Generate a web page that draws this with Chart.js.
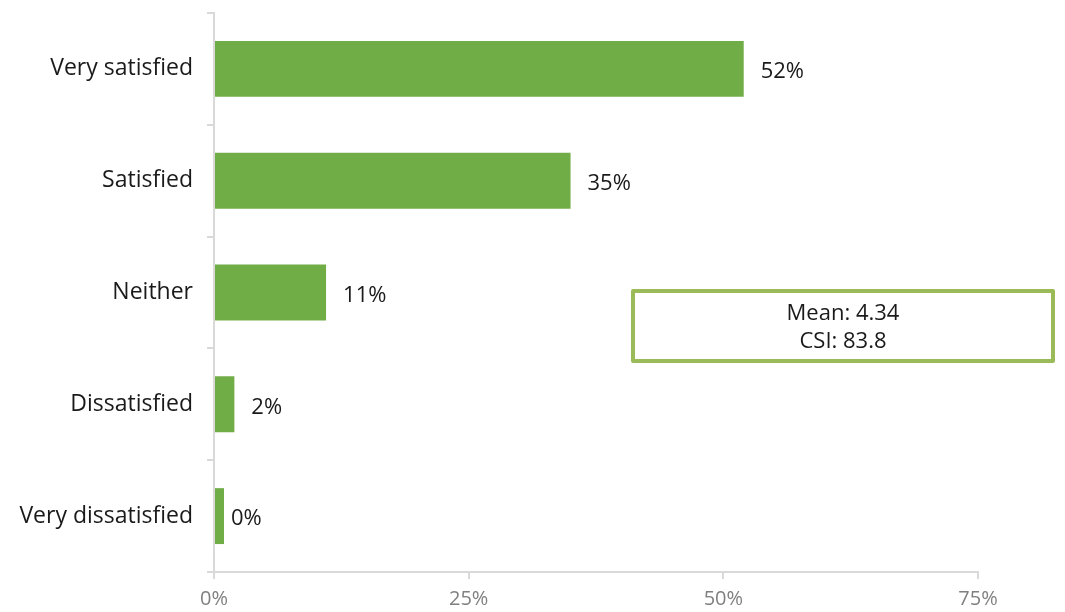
<!DOCTYPE html>
<html lang="en">

<head>
  <meta charset="UTF-8">
  <title>Satisfaction</title>
  <style>
    body {
      margin: 0;
      background: white;
    }

    .chart-container {
      width: 1065px;
      height: 612px;
    }
  </style>
</head>

<body>
  <div class="chart-container">
    <canvas id="satisfactionChart" width="1065" height="612"></canvas>
  </div>

  <script src="https://cdn.jsdelivr.net/npm/chart.js"></script>
  <script>
    // Survey results
    const categories = ['Very satisfied', 'Satisfied', 'Neither', 'Dissatisfied', 'Very dissatisfied'];
    const percentages = [52, 35, 11, 2, 0];
    const xTicks = [0, 25, 50, 75];
    const statLines = ['Mean: 4.34', 'CSI: 83.8'];

    const FONT = "'Open Sans', sans-serif";

    // Percentage labels just past the end of each bar
    const valueLabels = {
      id: 'valueLabels',
      afterDatasetsDraw(chart) {
        const ctx = chart.ctx;
        const x = chart.scales.x;
        const meta = chart.getDatasetMeta(0);
        ctx.save();
        ctx.font = '22px ' + FONT;
        ctx.fillStyle = '#1a1a1a';
        ctx.textBaseline = 'middle';
        ctx.textAlign = 'left';
        meta.data.forEach((bar, i) => {
          const v = percentages[i];
          ctx.fillText(v + '%', x.getPixelForValue(v) + 17, bar.y + 3);
        });
        ctx.restore();
      }
    };

    // Summary box with mean and CSI
    const statBox = {
      id: 'statBox',
      afterDraw(chart) {
        const ctx = chart.ctx;
        const left = 633, top = 291, w = 420, h = 70;
        ctx.save();
        ctx.lineWidth = 4;
        ctx.strokeStyle = '#9bbb59';
        ctx.lineJoin = 'round';
        ctx.strokeRect(left, top, w, h);
        ctx.font = '22px ' + FONT;
        ctx.fillStyle = '#1a1a1a';
        ctx.textAlign = 'center';
        ctx.textBaseline = 'middle';
        statLines.forEach((line, i) => {
          ctx.fillText(line, left + w / 2, top + 23 + i * 28);
        });
        ctx.restore();
      }
    };

    const ctx = document.getElementById('satisfactionChart').getContext('2d');
    new Chart(ctx, {
      type: 'bar',
      data: {
        labels: categories,
        datasets: [{
          data: percentages,
          backgroundColor: '#70ad47',
          barPercentage: 0.5,
          categoryPercentage: 1,
          minBarLength: 10
        }]
      },
      options: {
        indexAxis: 'y',
        responsive: false,
        animation: false,
        layout: {
          padding: { top: 13, right: 87, left: 0, bottom: 0 }
        },
        plugins: {
          legend: { display: false },
          tooltip: { enabled: false }
        },
        scales: {
          x: {
            min: 0,
            max: 75,
            afterBuildTicks(scale) {
              scale.ticks = xTicks.map(v => ({ value: v }));
            },
            afterFit(scale) {
              scale.height = 40;
            },
            border: { color: '#d9d9d9', width: 2 },
            grid: {
              drawOnChartArea: false,
              color: '#d9d9d9',
              lineWidth: 2,
              tickLength: 7
            },
            ticks: {
              color: '#808080',
              padding: 8,
              font: { family: FONT, size: 20 },
              callback: v => v + '%'
            }
          },
          y: {
            afterFit(scale) {
              scale.width = 214;
              scale.paddingTop = 0;
              scale.paddingBottom = 0;
            },
            border: { color: '#d9d9d9', width: 2 },
            grid: {
              drawOnChartArea: false,
              color: '#d9d9d9',
              lineWidth: 2,
              tickLength: 7
            },
            ticks: {
              color: '#1a1a1a',
              padding: 14,
              font: { family: FONT, size: 23 }
            }
          }
        }
      },
      plugins: [valueLabels, statBox]
    });
  </script>
</body>

</html>
